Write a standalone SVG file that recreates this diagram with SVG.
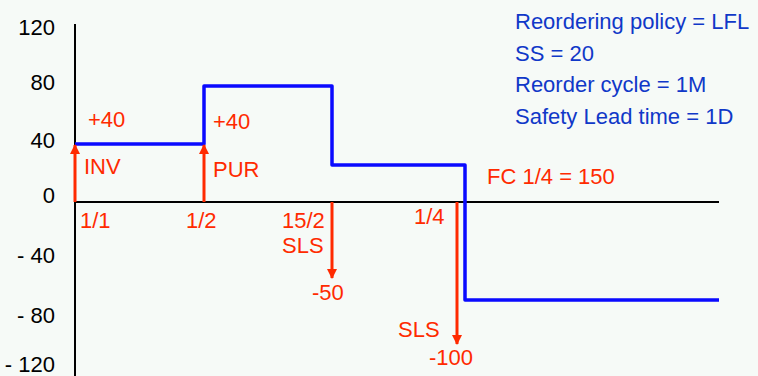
<svg xmlns="http://www.w3.org/2000/svg" width="758" height="376" viewBox="0 0 758 376">
<style>
text{font-family:"Liberation Sans",Arial,sans-serif;font-size:22px}
.ax{fill:#000}
.rd{fill:#ff2a00}
.bl{fill:#1038c8}
.axis{stroke:#000;stroke-width:2;fill:none}
.inv{stroke:#0a0aff;stroke-width:3.5;fill:none;stroke-linejoin:round}
.arr{stroke:#ff2a00;stroke-width:3;fill:none;marker-end:url(#ah)}
</style>
<defs>
<marker id="ah" viewBox="0 0 10 10" refX="9" refY="5" markerUnits="userSpaceOnUse" markerWidth="10" markerHeight="10" orient="auto">
<path d="M0,0 L10,5 L0,10 z" fill="#ff2a00"/>
</marker>
</defs>
<rect width="758" height="376" fill="#f6faf7"/>
<g id="axes">
<line class="axis" x1="75" y1="24" x2="75" y2="376"/>
<line class="axis" x1="75" y1="202" x2="719" y2="202"/>
</g>
<g id="y-labels" class="ax" text-anchor="end">
<text class="ax" x="55" y="35">120</text>
<text class="ax" x="55" y="90">80</text>
<text class="ax" x="55" y="148">40</text>
<text class="ax" x="55" y="203">0</text>
<text class="ax" x="55" y="263">- 40</text>
<text class="ax" x="55" y="323">- 80</text>
<text class="ax" x="55" y="372">- 120</text>
</g>
<g id="inventory">
<polyline class="inv" points="75,144 204,144 204,86 332,86 332,165 465,165 465,300 719,300"/>
</g>
<g id="connectors">
<line class="arr" x1="75" y1="202" x2="75" y2="145"/>
<line class="arr" x1="204" y1="202" x2="204" y2="145"/>
<line class="arr" x1="332" y1="202" x2="332" y2="278"/>
<line class="arr" x1="457" y1="202" x2="457" y2="344"/>
</g>
<g id="event-inv">
<text class="rd" x="88" y="127">+40</text>
<text class="rd" x="84" y="174">INV</text>
<text class="rd" x="80" y="228">1/1</text>
</g>
<g id="event-pur">
<text class="rd" x="213" y="129">+40</text>
<text class="rd" x="213" y="177">PUR</text>
<text class="rd" x="186" y="228">1/2</text>
</g>
<g id="event-sls1">
<text class="rd" x="282" y="228">15/2</text>
<text class="rd" x="282" y="253">SLS</text>
<text class="rd" x="312" y="300">-50</text>
</g>
<g id="event-sls2">
<text class="rd" x="414" y="224">1/4</text>
<text class="rd" x="398" y="337">SLS</text>
<text class="rd" x="429" y="365">-100</text>
<text class="rd" x="487" y="184">FC 1/4 = 150</text>
</g>
<g id="legend">
<text class="bl" x="515" y="29">Reordering policy = LFL</text>
<text class="bl" x="515" y="61">SS = 20</text>
<text class="bl" x="515" y="92">Reorder cycle = 1M</text>
<text class="bl" x="515" y="124">Safety Lead time = 1D</text>
</g>
</svg>
